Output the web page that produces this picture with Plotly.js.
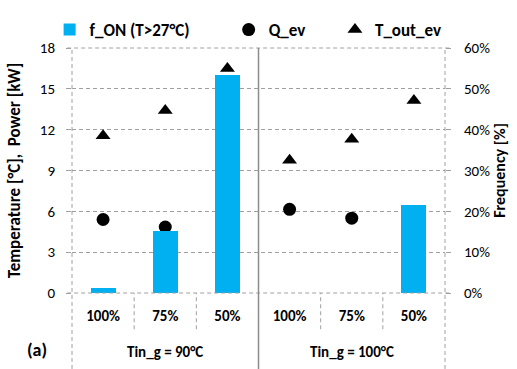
<!DOCTYPE html>
<html><head><meta charset="utf-8">
<script src="https://cdn.plot.ly/plotly-3.0.1.min.js"></script>
<style>body{margin:0;background:#fff}#c{width:517px;height:369px}</style>
</head><body><div id="c"></div>
<script>
var groups = ["Tin_g = 90°C", "Tin_g = 100°C"];
var levels = ["100%", "75%", "50%", "100%", "75%", "50%"];
var seriesNames = ["f_ON (T>27°C)", "Q_ev", "T_out_ev"];
var fOn = [1.3, 15.3, 53.3, 0, 0, 21.6];
var qEv = [5.4, 4.85, 4.1, 6.15, 5.5, 4.6];
var tOut = [11.55, 13.4, 16.5, 9.75, 11.3, 14.15];
var yTicks = [0, 3, 6, 9, 12, 15, 18];
var y2Ticks = [0, 10, 20, 30, 40, 50, 60];

var FONT = "Carlito, Lato, 'Liberation Sans', sans-serif";
var GRID = '#a0a0a0';
var DASH = '4px,3px';
var idx = levels.map(function(_, i){ return i; });
var n = levels.length;
function b(s){ return '<b>' + s + '</b>'; }

var traces = [
  {type:'bar', x: idx, y: fOn, yaxis:'y2', name:b(seriesNames[0]), width:0.4,
   marker:{color:'#00B0F0'}, legend:'legend'},
  {type:'scatter', mode:'markers', x: idx, y: qEv, name:b(seriesNames[1]),
   marker:{symbol:'circle', size:13, color:'#000'}, legend:'legend2'},
  {type:'scatter', mode:'markers', x: idx, y: tOut, name:b(seriesNames[2]),
   marker:{symbol:'triangle-up', size:13, color:'#000'}, legend:'legend3'}
];

var shapes = [];
[0, 1].forEach(function(p){
  shapes.push({type:'line', xref:'paper', yref:'paper', x0:-0.013, x1:1.013, y0:p, y1:p,
    line:{color:GRID, width:1, dash:DASH}});
});
for (var k = 0; k <= n; k++) {
  var isGroup = (k % 3 === 0);
  var solid = (k === 3);
  shapes.push({type:'line', xref:'paper', yref:'paper', x0:k/n, x1:k/n,
    y0: isGroup ? -0.31 : -0.148, y1: isGroup ? 1 : 0,
    line:{color: solid ? '#8c8c8c' : GRID, width: solid ? 1.5 : 1, dash: solid ? 'solid' : DASH}});
}

var annotations = [
  {text:b(groups[0]), xref:'x', yref:'paper', x:1, y:-0.236, yshift:-12, showarrow:false, font:{family:FONT, size:15, color:'#000'}},
  {text:b(groups[1]), xref:'x', yref:'paper', x:4, y:-0.236, yshift:-12, showarrow:false, font:{family:FONT, size:15, color:'#000'}},
  {text:b('(a)'), xref:'paper', yref:'paper', x:-0.095, xshift:-12, y:-0.236, yshift:-12, showarrow:false, font:{family:FONT, size:18, color:'#000'}}
];

var legFont = {family:FONT, size:17, color:'#000'};
function leg(x){ return {x:x, y:1.0, xanchor:'left', yanchor:'bottom', orientation:'h', font:legFont, itemwidth:30, bgcolor:'rgba(0,0,0,0)'}; }

var layout = {
  width:517, height:369,
  margin:{l:72, r:72, t:43, b:76},
  paper_bgcolor:'#fff', plot_bgcolor:'#fff',
  font:{family:FONT, size:15, color:'#000'},
  bargap:0,
  xaxis:{range:[-0.5,5.5], tickvals: idx, ticktext: levels.map(b),
    showgrid:false, zeroline:false, showline:false, ticks:'', ticklabelstandoff:12,
    tickfont:{family:FONT, size:15, color:'#000'}, fixedrange:true},
  yaxis:{range:[0,18], tickvals:yTicks, showgrid:true, gridcolor:GRID, griddash:DASH, gridwidth:1,
    zeroline:false, showline:false, ticks:'outside', ticklen:5, tickcolor:GRID, ticklabelstandoff:8,
    tickfont:{family:FONT, size:15, color:'#000'},
    title:{text:b('Temperature [°C],  Power [kW]'), font:{family:FONT, size:17, color:'#000'}, standoff:14}},
  yaxis2:{range:[0,60], overlaying:'y', side:'right', tickvals:y2Ticks,
    ticktext: y2Ticks.map(function(v){return v+'%';}), showgrid:false, zeroline:false, showline:false,
    ticks:'outside', ticklen:5, tickcolor:GRID, ticklabelstandoff:10,
    tickfont:{family:FONT, size:15, color:'#000'},
    title:{text:b('Frequency [%]'), font:{family:FONT, size:16, color:'#000'}, standoff:4}},
  showlegend:true,
  legend: leg(-0.06),
  legend2: leg(0.42),
  legend3: leg(0.705),
  shapes: shapes,
  annotations: annotations
};
Plotly.newPlot('c', traces, layout, {displayModeBar:false, staticPlot:true});
</script></body></html>
